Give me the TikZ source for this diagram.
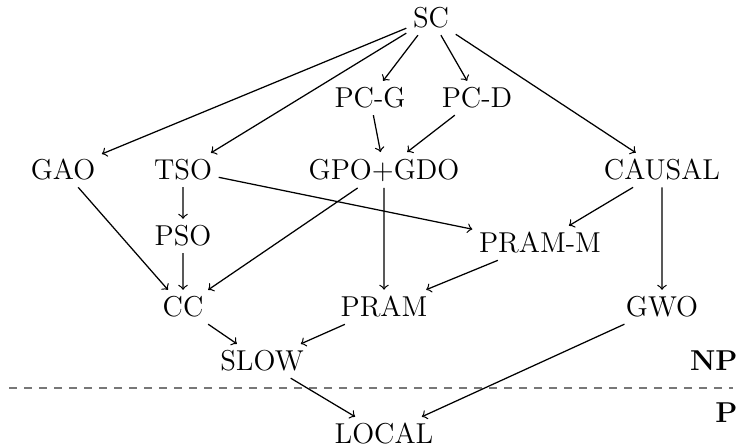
\documentclass[tikz,border=0pt]{standalone}
\usepackage{amsmath,amsfonts}
\usepackage{xcolor}
\usepackage{tikz}
\definecolor{C777777}{HTML}{777777}

\begin{document}
\begin{tikzpicture}[scale=0.4,
  mdl/.style={inner sep=2.5pt,font=\fontsize{11.5}{13}\selectfont},
  cls/.style={inner sep=0pt,anchor=east,font=\fontsize{11.5}{13}\selectfont\bfseries},
  imp/.style={->,line width=0.5pt}]
\useasboundingbox (0pt,0pt) rectangle (740pt,-446pt);
\node (sc) [mdl,at={(431pt,-18pt)}] {SC};
\node (pcg) [mdl,at={(370pt,-98pt)}] {PC-G};
\node (pcd) [mdl,at={(477pt,-98pt)}] {PC-D};
\node (gao) [mdl,at={(63pt,-170pt)}] {GAO};
\node (tso) [mdl,at={(183pt,-170pt)}] {TSO};
\node (gpo) [mdl,at={(384pt,-170pt)}] {GPO+GDO};
\node (causal) [mdl,at={(662pt,-170pt)}] {CAUSAL};
\node (pso) [mdl,at={(183pt,-236pt)}] {PSO};
\node (pramm) [mdl,at={(540pt,-243pt)}] {PRAM-M};
\node (cc) [mdl,at={(183pt,-307pt)}] {CC};
\node (pram) [mdl,at={(384pt,-307pt)}] {PRAM};
\node (gwo) [mdl,at={(662pt,-307pt)}] {GWO};
\node (slow) [mdl,at={(262pt,-361pt)}] {SLOW};
\node (local) [mdl,at={(384pt,-434pt)}] {LOCAL};
\node (np) [cls,at={(738pt,-361pt)}] {NP};
\node (p) [cls,at={(738pt,-413pt)}] {P};
\coordinate (d0) at (9pt,-388pt);
\coordinate (d1) at (733pt,-388pt);
\draw [dashed,C777777,line width=0.5pt] (d0)--(d1);
\path [imp,draw] (sc)--(gao);
\path [imp,draw] (sc)--(tso);
\path [imp,draw] (sc)--(pcg);
\path [imp,draw] (sc)--(pcd);
\path [imp,draw] (sc)--(causal);
\path [imp,draw] (pcg)--(gpo);
\path [imp,draw] (pcd)--(gpo);
\path [imp,draw] (gao)--(cc);
\path [imp,draw] (tso)--(pso);
\path [imp,draw] (pso)--(cc);
\path [imp,draw] (gpo)--(cc);
\path [imp,draw] (gpo)--(pram);
\path [imp,draw] (tso)--(pramm);
\path [imp,draw] (causal)--(pramm);
\path [imp,draw] (causal)--(gwo);
\path [imp,draw] (pramm)--(pram);
\path [imp,draw] (cc)--(slow);
\path [imp,draw] (pram)--(slow);
\path [imp,draw] (slow)--(local);
\path [imp,draw] (gwo)--(local);
\end{tikzpicture}
\end{document}
